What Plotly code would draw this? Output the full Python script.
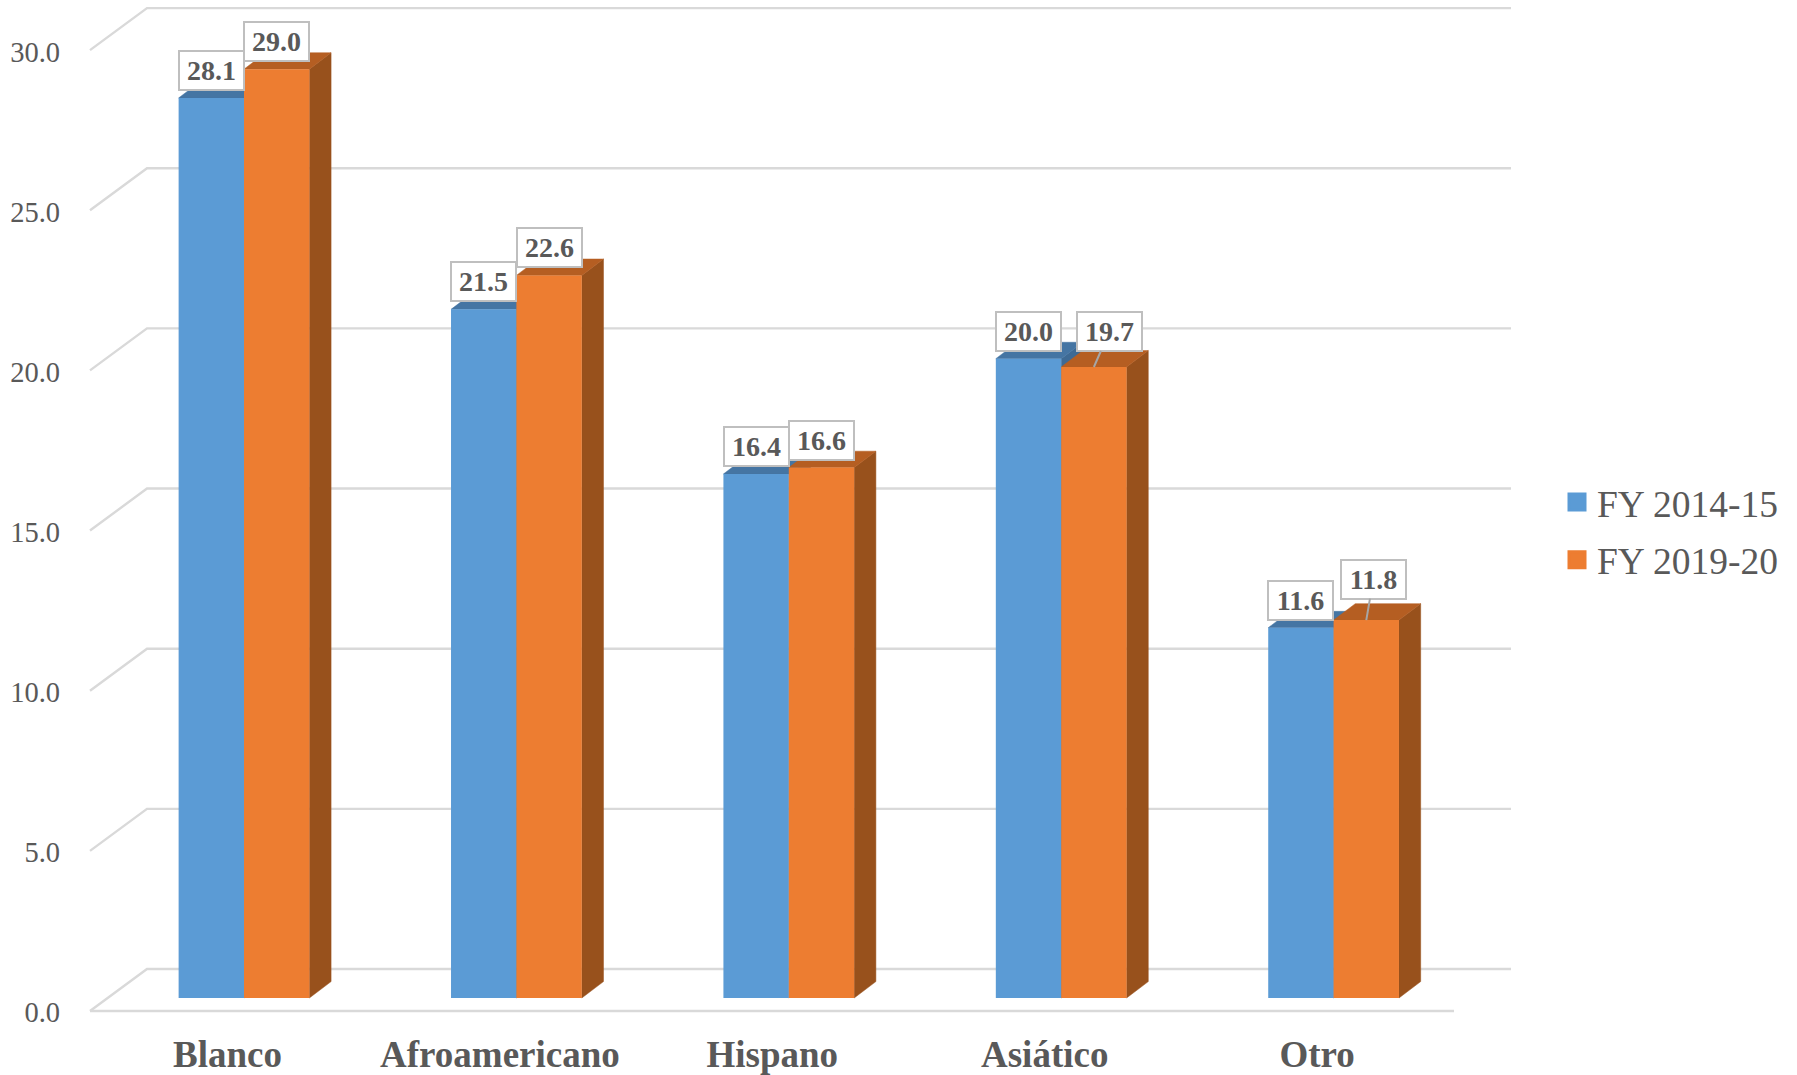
import plotly.graph_objects as go

categories = ["Blanco", "Afroamericano", "Hispano", "Asiático", "Otro"]
fy_2014_15 = [28.1, 21.5, 16.36, 19.96, 11.56]
fy_2019_20 = [29.0, 22.56, 16.56, 19.7, 11.8]
series_names = ["FY 2014-15", "FY 2019-20"]
y_ticks = [0, 5, 10, 15, 20, 25, 30]

# Layout geometry, in pixels of the 1797x1075 page
W, H = 1797, 1075
PLOT_L, PLOT_R, PLOT_B = 61, 1540, 1024
X0_PX, CAT_PX = 244.0, 272.4      # boundary of the first pair, category step
Y0_PX, UNIT_PX = 998.0, 32.03     # value 0 on the bars' plane, pixels per unit

def px_x(p):
    return (p - X0_PX) / CAT_PX

BAR_W = 0.24
DX, DY = 21.7 / CAT_PX, 16.4 / UNIT_PX    # 3D depth of a bar
WALL_FRONT_Y = -13.0 / UNIT_PX            # front-wall level relative to bar plane
WALL_BACK_Y = 29.0 / UNIT_PX              # back-wall level relative to bar plane
WALL_FRONT_X, WALL_BACK_X = px_x(90), px_x(147)
BACK_END_X, FLOOR_END_X = px_x(1511), px_x(1454)
LABEL_OFFSET = -16.5 / CAT_PX
TICK_TEXT_SHIFT = -1.5 / UNIT_PX

GRID = "#d9d9d9"
TEXT = "#595959"
FONT = "Liberation Serif"
BLUE, BLUE_TOP, BLUE_SIDE = "#5b9bd5", "#4575a3", "#3e6a94"
ORANGE, ORANGE_TOP, ORANGE_SIDE = "#ed7d31", "#b55e22", "#98511c"

x_range = [px_x(PLOT_L), px_x(PLOT_R)]
y_range = [(Y0_PX - PLOT_B) / UNIT_PX, Y0_PX / UNIT_PX]

fig = go.Figure()

# Walls: back gridlines with their diagonals, and the front edge of the floor
wx, wy = [], []
for t in y_ticks:
    wx += [WALL_FRONT_X, WALL_BACK_X, BACK_END_X, None]
    wy += [t + WALL_FRONT_Y, t + WALL_BACK_Y, t + WALL_BACK_Y, None]
wx += [WALL_FRONT_X, FLOOR_END_X]
wy += [WALL_FRONT_Y, WALL_FRONT_Y]
fig.add_trace(go.Scatter(x=wx, y=wy, mode="lines", line=dict(color=GRID, width=2.4),
                         showlegend=False, hoverinfo="skip"))


def faces(values, offset):
    tx, ty, sx, sy = [], [], [], []
    for k, v in enumerate(values):
        l, r = k + offset, k + offset + BAR_W
        tx += [l, r, r + DX, l + DX, l, None]
        ty += [v, v, v + DY, v + DY, v, None]
        sx += [r, r + DX, r + DX, r, r, None]
        sy += [0, DY, v + DY, v, 0, None]
    return tx, ty, sx, sy


for values, offset, top, side in [(fy_2014_15, -BAR_W, BLUE_TOP, BLUE_SIDE),
                                  (fy_2019_20, 0.0, ORANGE_TOP, ORANGE_SIDE)]:
    tx, ty, sx, sy = faces(values, offset)
    for fx, fy, colour in [(sx, sy, side), (tx, ty, top)]:
        fig.add_trace(go.Scatter(x=fx, y=fy, mode="lines", fill="toself", fillcolor=colour,
                                 line=dict(color=colour, width=0.5),
                                 showlegend=False, hoverinfo="skip"))

# Front faces sit on an overlaying subplot so they cover the faces behind them
positions = list(range(len(categories)))
for name, values, offset, colour in [(series_names[0], fy_2014_15, -BAR_W, BLUE),
                                     (series_names[1], fy_2019_20, 0.0, ORANGE)]:
    fig.add_trace(go.Bar(x=positions, y=values, name=name, width=BAR_W, offset=offset,
                         marker=dict(color=colour, line=dict(width=0)),
                         xaxis="x2", yaxis="y2", showlegend=False))

# Legend entries
for name, colour in zip(series_names, [BLUE, ORANGE]):
    fig.add_trace(go.Scatter(x=[None], y=[None], mode="markers", name=name, legendgroup=name,
                             marker=dict(symbol="square", size=16, color=colour,
                                         line=dict(color=colour, width=3))))

# Data labels; two of them are pushed away and tied back with a leader line
leaders = {(1, 3): (15.5, -35.5), (1, 4): (7, -41)}
annotations = []
for s, (values, offset) in enumerate([(fy_2014_15, -BAR_W / 2), (fy_2019_20, BAR_W / 2)]):
    for k, v in enumerate(values):
        common = dict(x=k + offset, y=v, xref="x", yref="y", text=f"<b>{v:.1f}</b>",
                      font=dict(family=FONT, size=28, color=TEXT), bgcolor="white",
                      bordercolor="#bfbfbf", borderwidth=2, borderpad=0, width=63, height=37,
                      align="center", valign="middle")
        if (s, k) in leaders:
            ax, ay = leaders[(s, k)]
            annotations.append(dict(common, showarrow=True, arrowhead=0, arrowwidth=2,
                                    arrowcolor="#a6a6a6", ax=ax, ay=ay, standoff=0))
        else:
            annotations.append(dict(common, showarrow=False, xanchor="center",
                                    yanchor="bottom", yshift=7))

fig.update_layout(
    width=W, height=H, autosize=False,
    margin=dict(l=PLOT_L, r=W - PLOT_R, t=0, b=H - PLOT_B, pad=0, autoexpand=False),
    paper_bgcolor="white", plot_bgcolor="white",
    barmode="overlay",
    font=dict(family=FONT, color=TEXT),
    xaxis=dict(range=x_range, showgrid=False, zeroline=False, showline=False, automargin=False,
               tickmode="array", tickvals=[k + LABEL_OFFSET for k in positions],
               ticktext=[f"<b>{c}</b>" for c in categories], ticks="", ticklen=0,
               ticklabelstandoff=5, tickfont=dict(family=FONT, size=37, color=TEXT)),
    yaxis=dict(range=y_range, showgrid=False, zeroline=False, showline=False, automargin=False,
               tickmode="array", tickvals=[t + WALL_FRONT_Y + TICK_TEXT_SHIFT for t in y_ticks],
               ticktext=[f"{t:.1f}" for t in y_ticks],
               tickfont=dict(family=FONT, size=28.5, color=TEXT)),
    xaxis2=dict(range=x_range, overlaying="x", visible=False),
    yaxis2=dict(range=y_range, overlaying="y", visible=False),
    legend=dict(x=(1557 - PLOT_L) / (PLOT_R - PLOT_L), y=(PLOT_B - 471) / PLOT_B,
                xanchor="left", yanchor="top", font=dict(family=FONT, size=37.5, color=TEXT),
                bgcolor="rgba(0,0,0,0)", tracegroupgap=6, itemclick=False, itemdoubleclick=False),
    annotations=annotations,
    showlegend=True,
)

fig.write_html("out.html", config={"displayModeBar": False},
               post_script="document.body.style.margin='0';")
